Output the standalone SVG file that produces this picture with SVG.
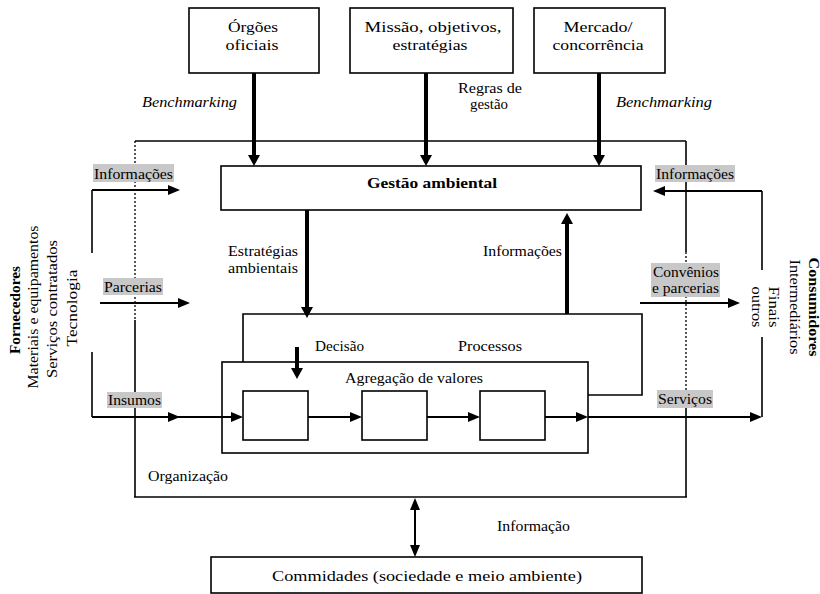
<svg xmlns="http://www.w3.org/2000/svg" width="820" height="594" viewBox="0 0 820 594">
  <style>
    .t { font-family: "Liberation Serif", "Times New Roman", serif; font-size: 14px; fill: #000; }
    .b { font-weight: bold; }
    .i { font-style: italic; }
    .box { fill: #fff; stroke: #000; stroke-width: 1.6; }
    .ln { fill: none; stroke: #000; stroke-width: 1.6; }
    .dot { fill: none; stroke: #000; stroke-width: 1.3; stroke-dasharray: 2 2; }
    .thick { fill: none; stroke: #000; stroke-width: 4; }
    .arr { fill: none; stroke: #000; stroke-width: 2; }
    .hl { fill: #c8c8c8; }
  </style>
  <defs>
    <marker id="headThick" markerUnits="userSpaceOnUse" markerWidth="12" markerHeight="12" refX="0" refY="6" orient="auto">
      <path d="M0,0 L11,6 L0,12 z" fill="#000"/>
    </marker>
    <marker id="head" markerUnits="userSpaceOnUse" markerWidth="12" markerHeight="10" refX="0" refY="5" orient="auto-start-reverse">
      <path d="M0,0 L12,5 L0,10 z" fill="#000"/>
    </marker>
  </defs>

  <rect width="820" height="594" fill="#fff"/>

  <!-- Organization frame -->
  <g id="organizacao">
    <path class="ln" d="M135,141 H686" stroke-width="2"/>
    <path class="dot" d="M135,141 V320"/>
    <path class="ln" d="M135,320 V497"/>
    <path class="ln" d="M134,497 H687" stroke-width="3"/>
    <path class="ln" d="M686,141 V252"/>
    <path class="dot" d="M686,252 V400"/>
    <path class="ln" d="M686,400 V497"/>
    <text class="t" x="148" y="481" textLength="80" lengthAdjust="spacingAndGlyphs">Organização</text>
  </g>

  <!-- Top sources -->
  <g id="orgaos">
    <rect class="box" x="189" y="8" width="130" height="65"/>
    <text class="t" x="253" y="32" text-anchor="middle" textLength="50" lengthAdjust="spacingAndGlyphs">Órgões</text>
    <text class="t" x="252" y="50" text-anchor="middle" textLength="53" lengthAdjust="spacingAndGlyphs">oficiais</text>
  </g>
  <g id="missao">
    <rect class="box" x="350" y="8" width="163" height="65"/>
    <text class="t" x="433" y="32" text-anchor="middle" textLength="137" lengthAdjust="spacingAndGlyphs">Missão, objetivos,</text>
    <text class="t" x="430" y="50" text-anchor="middle" textLength="75" lengthAdjust="spacingAndGlyphs">estratégias</text>
  </g>
  <g id="mercado">
    <rect class="box" x="534" y="8" width="131" height="65"/>
    <text class="t" x="598" y="32" text-anchor="middle" textLength="69" lengthAdjust="spacingAndGlyphs">Mercado/</text>
    <text class="t" x="598" y="50" text-anchor="middle" textLength="91" lengthAdjust="spacingAndGlyphs">concorrência</text>
  </g>

  <!-- Environmental management -->
  <g id="gestao">
    <rect class="box" x="221" y="166" width="420" height="44"/>
    <text class="t b" x="432" y="188" text-anchor="middle" textLength="130" lengthAdjust="spacingAndGlyphs">Gestão ambiental</text>
  </g>

  <!-- Processes and value chain -->
  <g id="processos">
    <path class="ln" d="M243,362 V314 H642 V395 H588"/>
    <text class="t" x="315" y="351" textLength="49" lengthAdjust="spacingAndGlyphs">Decisão</text>
    <text class="t" x="458" y="351" textLength="64" lengthAdjust="spacingAndGlyphs">Processos</text>
  </g>
  <g id="agregacao">
    <rect class="box" x="222" y="362" width="366" height="91"/>
    <text class="t" x="345" y="383" textLength="138" lengthAdjust="spacingAndGlyphs">Agregação de valores</text>
  </g>
  <g id="etapa1"><rect class="box" x="243" y="391" width="65" height="49"/></g>
  <g id="etapa2"><rect class="box" x="362" y="391" width="65" height="49"/></g>
  <g id="etapa3"><rect class="box" x="480" y="391" width="65" height="49"/></g>

  <!-- Community -->
  <g id="comunidades">
    <rect class="box" x="211" y="557" width="431" height="36"/>
    <text class="t" x="272" y="581" textLength="310" lengthAdjust="spacingAndGlyphs">Commidades (sociedade e meio ambiente)</text>
  </g>

  <!-- Suppliers -->
  <g id="fornecedores">
    <text class="t b" transform="translate(20,310) rotate(-90)" text-anchor="middle" textLength="88" lengthAdjust="spacingAndGlyphs">Fornecedores</text>
    <text class="t" transform="translate(38,307) rotate(-90)" text-anchor="middle" textLength="163" lengthAdjust="spacingAndGlyphs">Materiais e equipamentos</text>
    <text class="t" transform="translate(57,309) rotate(-90)" text-anchor="middle" textLength="138" lengthAdjust="spacingAndGlyphs">Serviços contratados</text>
    <text class="t" transform="translate(77,308) rotate(-90)" text-anchor="middle" textLength="77" lengthAdjust="spacingAndGlyphs">Tecnologia</text>
  </g>

  <!-- Consumers -->
  <g id="consumidores">
    <text class="t b" transform="translate(809,307) rotate(90)" text-anchor="middle" textLength="99" lengthAdjust="spacingAndGlyphs">Consumidores</text>
    <text class="t" transform="translate(790,307) rotate(90)" text-anchor="middle" textLength="95" lengthAdjust="spacingAndGlyphs">Intermediários</text>
    <text class="t" transform="translate(769,307) rotate(90)" text-anchor="middle" textLength="41" lengthAdjust="spacingAndGlyphs">Finais</text>
    <text class="t" transform="translate(752,307) rotate(90)" text-anchor="middle" textLength="41" lengthAdjust="spacingAndGlyphs">outros</text>
  </g>

  <!-- Connectors -->
  <g id="connectors">
    <!-- inputs to environmental management -->
    <path class="thick" d="M254,73 V155" marker-end="url(#headThick)"/>
    <path class="thick" d="M426,73 V155" marker-end="url(#headThick)"/>
    <path class="thick" d="M599,73 V155" marker-end="url(#headThick)"/>
    <!-- strategies down, information up -->
    <path class="thick" d="M307,210 V307" marker-end="url(#headThick)"/>
    <path class="thick" d="M567,314 V224" marker-end="url(#headThick)"/>
    <path class="thick" d="M297,347 V368" marker-end="url(#headThick)"/>
    <!-- supplier side -->
    <path class="ln" d="M92,190 V253 M92,352 V417"/>
    <path class="arr" d="M92,190 H168" marker-end="url(#head)"/>
    <path class="arr" d="M100,303 H178" marker-end="url(#head)"/>
    <path class="arr" d="M92,417 H168" marker-end="url(#head)"/>
    <path class="arr" d="M178,417 H231" marker-end="url(#head)"/>
    <!-- value chain -->
    <path class="arr" d="M308,417 H350" marker-end="url(#head)"/>
    <path class="arr" d="M427,417 H468" marker-end="url(#head)"/>
    <path class="arr" d="M545,417 H576" marker-end="url(#head)"/>
    <!-- consumer side -->
    <path class="arr" d="M588,417 H750" marker-end="url(#head)"/>
    <path class="ln" d="M762,191 V270 M762,337 V417"/>
    <path class="arr" d="M762,191 H665" marker-end="url(#head)"/>
    <path class="arr" d="M640,303 H728" marker-end="url(#head)"/>
    <!-- organization to community -->
    <path class="arr" d="M415,510 V545" stroke-width="3" marker-start="url(#head)" marker-end="url(#head)"/>
  </g>

  <!-- Connector labels -->
  <g id="labels">
    <text class="t i" x="142" y="107" textLength="95" lengthAdjust="spacingAndGlyphs">Benchmarking</text>
    <text class="t i" x="616" y="107" textLength="96" lengthAdjust="spacingAndGlyphs">Benchmarking</text>
    <text class="t" x="490" y="93" text-anchor="middle" textLength="64" lengthAdjust="spacingAndGlyphs">Regras de</text>
    <text class="t" x="489" y="109" text-anchor="middle" textLength="38" lengthAdjust="spacingAndGlyphs">gestão</text>
    <text class="t" x="228" y="256" textLength="70" lengthAdjust="spacingAndGlyphs">Estratégias</text>
    <text class="t" x="228" y="273" textLength="70" lengthAdjust="spacingAndGlyphs">ambientais</text>
    <text class="t" x="483" y="256" textLength="79" lengthAdjust="spacingAndGlyphs">Informações</text>
    <text class="t" x="497" y="531" textLength="73" lengthAdjust="spacingAndGlyphs">Informação</text>

    <rect class="hl" x="93" y="164" width="81" height="18"/>
    <text class="t" x="94" y="179" textLength="79" lengthAdjust="spacingAndGlyphs">Informações</text>
    <rect class="hl" x="103" y="278" width="60" height="17"/>
    <text class="t" x="104" y="292" textLength="58" lengthAdjust="spacingAndGlyphs">Parcerias</text>
    <rect class="hl" x="107" y="392" width="55" height="16"/>
    <text class="t" x="108" y="405" textLength="53" lengthAdjust="spacingAndGlyphs">Insumos</text>

    <rect class="hl" x="655" y="165" width="80" height="17"/>
    <text class="t" x="656" y="179" textLength="78" lengthAdjust="spacingAndGlyphs">Informações</text>
    <rect class="hl" x="651" y="263" width="69" height="34"/>
    <text class="t" x="653" y="277" textLength="66" lengthAdjust="spacingAndGlyphs">Convênios</text>
    <text class="t" x="652" y="293" textLength="67" lengthAdjust="spacingAndGlyphs">e parcerias</text>
    <rect class="hl" x="657" y="390" width="56" height="18"/>
    <text class="t" x="658" y="404" textLength="54" lengthAdjust="spacingAndGlyphs">Serviços</text>
  </g>
</svg>
